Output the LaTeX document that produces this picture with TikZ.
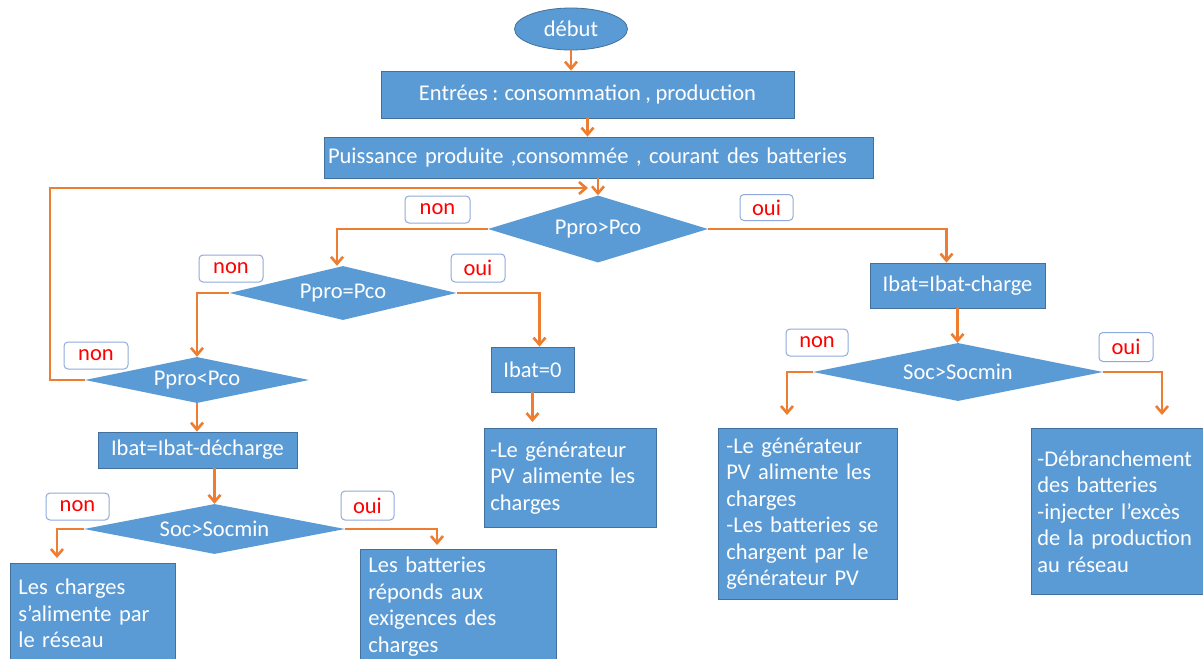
\documentclass[tikz,border=0pt]{standalone}
\usepackage{fontspec}
\setmainfont{Carlito}
\usetikzlibrary{shapes.geometric,arrows.meta}
\definecolor{boxblue}{HTML}{5B9BD5}
\definecolor{boxline}{HTML}{41719C}
\definecolor{arrorange}{HTML}{ED7D31}
\definecolor{lblline}{HTML}{8FAADC}
\newcommand{\diagfont}{\fontsize{22.5}{26.5}\selectfont\spaceskip=0.2em plus 0.05em minus 0.02em\relax}
\begin{document}
\begin{tikzpicture}[x=1pt,y=-1pt,
  font=\diagfont,
  blk/.style={rectangle, fill=boxblue, draw=boxline, line width=0.8pt, text=white, inner sep=0pt},
  dec/.style={diamond, aspect=5, fill=boxblue, draw=none, text=white, inner sep=0pt},
  txtbox/.style={rectangle, fill=boxblue, draw=boxline, line width=0.8pt, text=white, align=left, inner xsep=8pt, inner ysep=0pt, anchor=north west},
  lbl/.style={rectangle, rounded corners=4pt, fill=white, draw=lblline, line width=1pt, text=red, inner sep=0pt},
  arr/.style={draw=arrorange, line width=2.6pt, -{Straight Barb[length=7pt,width=12pt]}},
  ]
\clip (0,0) rectangle (1203,659);
\fill[white] (0,0) rectangle (1203,659);

% nodes
\node[ellipse, fill=boxblue, draw=boxline, line width=0.8pt, text=white, minimum width=113pt, minimum height=42pt, inner sep=0pt] (debut) at (571,29) {début};
\node[blk, minimum width=413pt, minimum height=47pt] (entrees) at (587.5,94.5) {Entrées : consommation , production};
\node[blk, minimum height=41pt, text width=541pt, inner xsep=4pt, align=left] (puiss) at (598.5,157.5) {Puissance produite ,consommée , courant des batteries};
\node[dec, minimum width=220pt, minimum height=67pt] (d1) at (598,229) {Ppro>Pco};
\node[dec, minimum width=227pt, minimum height=54pt] (d2) at (343,293) {Ppro=Pco};
\node[dec, minimum width=224pt, minimum height=46pt] (d3) at (197,380) {Ppro<Pco};
\node[blk, minimum width=83pt, minimum height=45pt] (ibat0) at (532.5,369.5) {Ibat=0};
\node[blk, minimum width=175pt, minimum height=45pt] (ibatcharge) at (957.5,285.5) {Ibat=Ibat-charge};
\node[dec, minimum width=290pt, minimum height=58pt] (d4) at (958,372) {Soc>Socmin};
\node[blk, minimum width=199pt, minimum height=36pt] (ibatdech) at (197.5,450) {Ibat=Ibat-décharge};
\node[dec, minimum width=261pt, minimum height=50pt] (d5) at (214.5,529) {Soc>Socmin};

\node[txtbox, text width=149pt, minimum height=100pt] (boxA) at (10,563) {Les charges\\s’alimente par\\le réseau};
\node[txtbox, text width=180pt, minimum height=114pt] (boxB) at (360,549) {Les batteries\\réponds aux\\exigences des\\charges};
\node[txtbox, minimum height=99pt, inner xsep=6pt, text width=160pt] (boxC) at (484,428) {-Le générateur\\PV alimente les\\charges};
\node[txtbox, text width=163pt, minimum height=171pt] (boxD) at (718,428) {-Le générateur\\PV alimente les\\charges\\-Les batteries se\\chargent par le\\générateur PV};
\node[txtbox, text width=162pt, minimum height=166pt, inner xsep=6pt] (boxE) at (1031,428) {-Débranchement\\des batteries\\-injecter l’excès\\de la production\\au réseau};

% labels
\node[lbl, minimum width=65pt, minimum height=27pt] (l1) at (437.5,209.5) {non};
\node[lbl, minimum width=53pt, minimum height=26pt] (l2) at (766.5,207.5) {oui};
\node[lbl, minimum width=64pt, minimum height=27pt] (l3) at (231,268.5) {non};
\node[lbl, minimum width=54pt, minimum height=28pt] (l4) at (478,268) {oui};
\node[lbl, minimum width=64pt, minimum height=27pt] (l5) at (96,355.5) {non};
\node[lbl, minimum width=62pt, minimum height=27pt] (l6) at (817,342.5) {non};
\node[lbl, minimum width=54pt, minimum height=29pt] (l7) at (1126,347) {oui};
\node[lbl, minimum width=63pt, minimum height=27pt] (l8) at (77.5,506.5) {non};
\node[lbl, minimum width=53pt, minimum height=29pt] (l9) at (367.5,505.5) {oui};

% free ends
\coordinate (loopL) at (50,188);
\coordinate (loopR) at (588,188);
\coordinate (tC) at (532.5,422);
\coordinate (tD) at (787,415);
\coordinate (tE) at (1162,415);
\coordinate (tA) at (57,558);
\coordinate (tB) at (437,545);

% connectors
\draw[arr] (debut.south) -- (debut.south |- entrees.north);
\draw[arr] (entrees.south) -- (entrees.south |- puiss.north);
\draw[arr] (puiss.south -| d1.north) -- (d1.north);
\draw[arr] (d3.west) -| (loopL) -- (loopR);
\draw[arr] (d1.west) -| ([xshift=-6pt]d2.north);
\draw[arr] (d1.east) -| ([xshift=-11pt]ibatcharge.north);
\draw[arr] (d2.west) -| (d3.north);
\draw[arr] (d2.east) -| ([xshift=7pt]ibat0.north);
\draw[arr] (d3.south) -- (d3.south |- ibatdech.north);
\draw[arr] (ibat0.south) -- (tC);
\draw[arr] (d5.north |- ibatdech.south) -- (d5.north);
\draw[arr] (ibatcharge.south) -- (ibatcharge.south |- d4.north);
\draw[arr] (d4.west) -| (tD);
\draw[arr] (d4.east) -| (tE);
\draw[arr] (d5.west) -| (tA);
\draw[arr] (d5.east) -| (tB);
\end{tikzpicture}
\end{document}
